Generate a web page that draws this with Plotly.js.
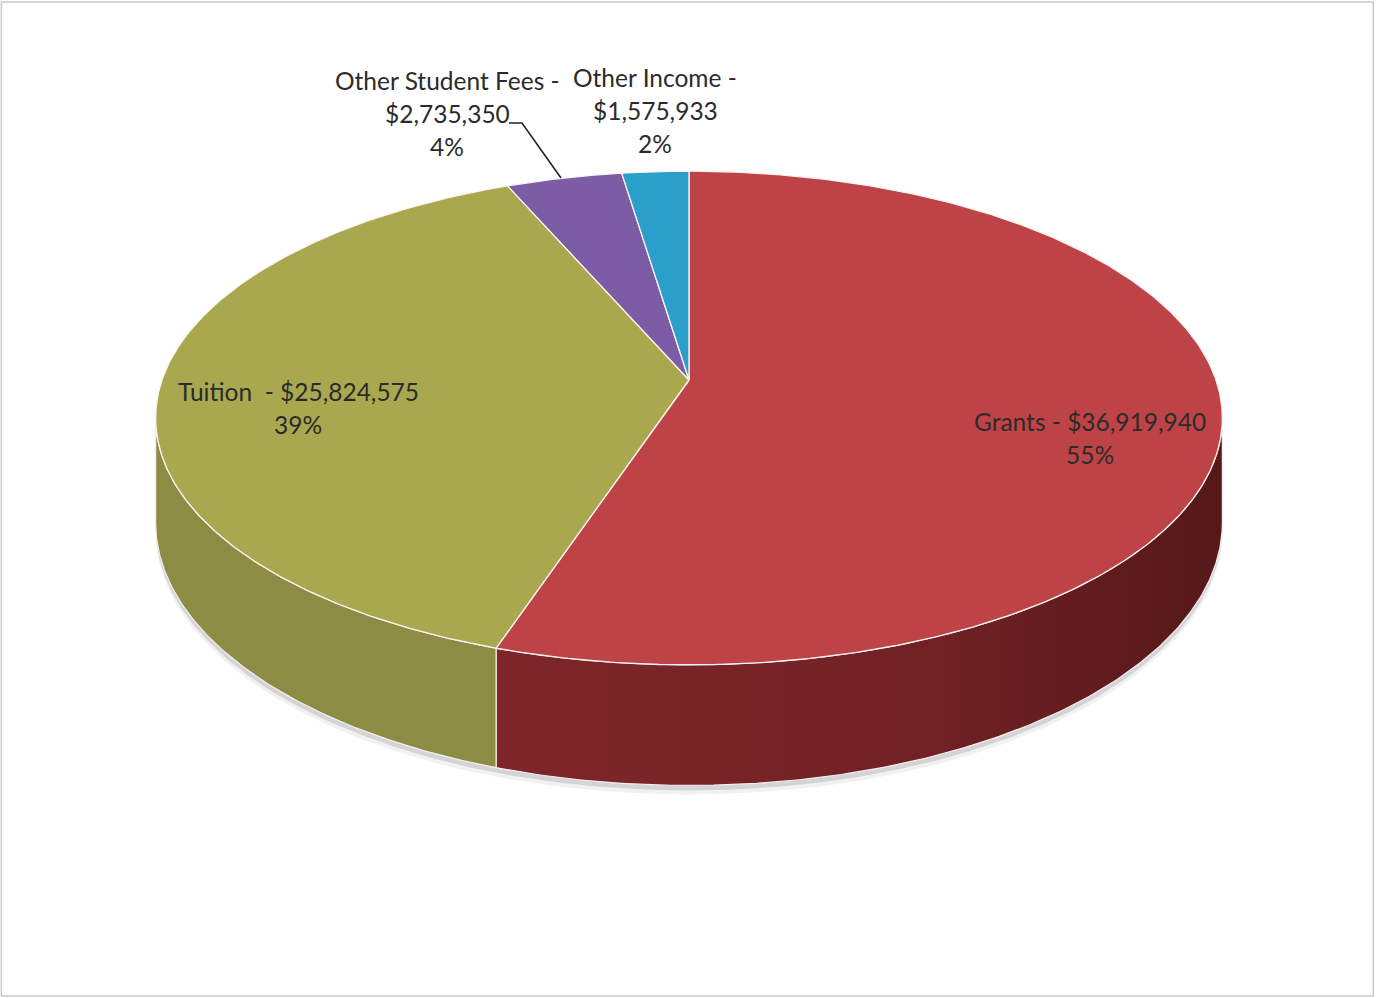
<!DOCTYPE html>
<html>
<head>
<meta charset="utf-8">
<script src="https://cdn.plot.ly/plotly-3.0.1.min.js"></script>
<style>html,body{margin:0;padding:0;background:#fff;}#chart{width:1376px;height:998px;}</style>
</head>
<body>
<div id="chart"></div>
<script>
// ---- data ----
const categories = ["Grants", "Tuition", "Other Student Fees", "Other Income"];
const values = [36919940, 25824575, 2735350, 1575933];

// ---- styles ----
const topColors = ["#BE4346", "#A9A84F", "#7D5CA6", "#2A9FCA"];
const sideColors = ["#742326", "#8D8C45", "#5E4480", "#1F7898"];

// ---- geometry of the 3D pie (layout, pixel space) ----
const cx = 689, cy = 380, A = 527, B = 241, P = 0.154, D = 102;
function proj(thDeg, depth) {
  const t = thDeg * Math.PI / 180;
  const s = 1 / (1 + P * Math.cos(t));
  return [cx + A * Math.sin(t) * s, cy - B * Math.cos(t) * s + D * s * depth];
}
function arc(a0, a1, depth) {
  const pts = [];
  const n = Math.max(2, Math.ceil(Math.abs(a1 - a0) / 0.5));
  for (let i = 0; i <= n; i++) pts.push(proj(a0 + (a1 - a0) * i / n, depth));
  return pts;
}

const total = values.reduce((a, b) => a + b, 0);
const starts = [], ends = [];
let acc = 0;
values.forEach(v => { starts.push(acc / total * 360); acc += v; ends.push(acc / total * 360); });

const traces = [];
// soft shadow
[[9, 'rgba(120,120,130,0.10)'], [5, 'rgba(110,110,120,0.22)']].forEach(([off, col]) => {
  const pts = arc(0, 360, 1);
  traces.push({x: pts.map(p => p[0]), y: pts.map(p => p[1] + off), mode: 'lines', fill: 'toself',
    fillcolor: col, line: {width: 0}, hoverinfo: 'skip', showlegend: false});
});

// side faces
const thA = Math.acos(-P) * 180 / Math.PI, thB = 360 - thA;
categories.forEach((c, i) => {
  const t0 = Math.max(starts[i], thA), t1 = Math.min(ends[i], thB);
  if (t1 <= t0) return;
  const top = arc(t0, t1, 0), bot = arc(t1, t0, 1);
  const pts = top.concat(bot); pts.push(top[0]);
  const tr = {x: pts.map(p => p[0]), y: pts.map(p => p[1]), mode: 'lines', fill: 'toself',
    fillcolor: sideColors[i], line: {color: '#f4eeee', width: 1.2}, hoverinfo: 'skip', showlegend: false, name: c};
  if (i === 0) tr.fillgradient = {type: 'horizontal', colorscale: [[0, '#7E2629'], [0.6, '#702124'], [1, '#561819']]};
  traces.push(tr);
});

// top faces
categories.forEach((c, i) => {
  const pts = [[cx, cy]].concat(arc(starts[i], ends[i], 0)); pts.push([cx, cy]);
  traces.push({x: pts.map(p => p[0]), y: pts.map(p => p[1]), mode: 'lines', fill: 'toself',
    fillcolor: topColors[i], line: {color: '#fbf3f3', width: 1.3}, hoverinfo: 'skip', showlegend: false, name: c});
});

// ---- labels ----
const fmt = v => '$' + v.toLocaleString('en-US');
const pct = v => Math.round(v / total * 100) + '%';
const lineSets = [
  [categories[0] + ' - ' + fmt(values[0]), pct(values[0])],
  [categories[1] + '\u00a0 - ' + fmt(values[1]), pct(values[1])],
  [categories[2] + ' -', fmt(values[2]), pct(values[2])],
  [categories[3] + ' -', fmt(values[3]), pct(values[3])]
];
const labelPos = [[1090, 421], [298, 391], [447, 80], [655, 77]];
const lineGap = 33;
const annotations = [];
lineSets.forEach((lines, i) => {
  lines.forEach((t, k) => {
    annotations.push({x: labelPos[i][0], y: labelPos[i][1] + k * lineGap, xref: 'x', yref: 'y',
      text: t, showarrow: false, xanchor: 'center', yanchor: 'middle',
      font: {family: 'Lato, "Open Sans", sans-serif', size: 24.5, color: '#2b2b2b'}});
  });
});

const layout = {
  width: 1376, height: 998,
  margin: {l: 0, r: 0, t: 0, b: 0},
  paper_bgcolor: '#ffffff', plot_bgcolor: '#ffffff',
  xaxis: {range: [0, 1376], visible: false, fixedrange: true},
  yaxis: {range: [998, 0], visible: false, fixedrange: true},
  showlegend: false,
  annotations: annotations,
  shapes: [
    {type: 'path', xref: 'x', yref: 'y', path: 'M509,123 L522,123 L561,178', line: {color: '#222', width: 1.6}},
    {type: 'rect', xref: 'paper', yref: 'paper', x0: 0.001, x1: 0.998, y0: 0.002, y1: 0.998, line: {color: '#c8c8c8', width: 1.5}}
  ]
};

Plotly.newPlot('chart', traces, layout, {staticPlot: true, displayModeBar: false});
</script>
</body>
</html>
